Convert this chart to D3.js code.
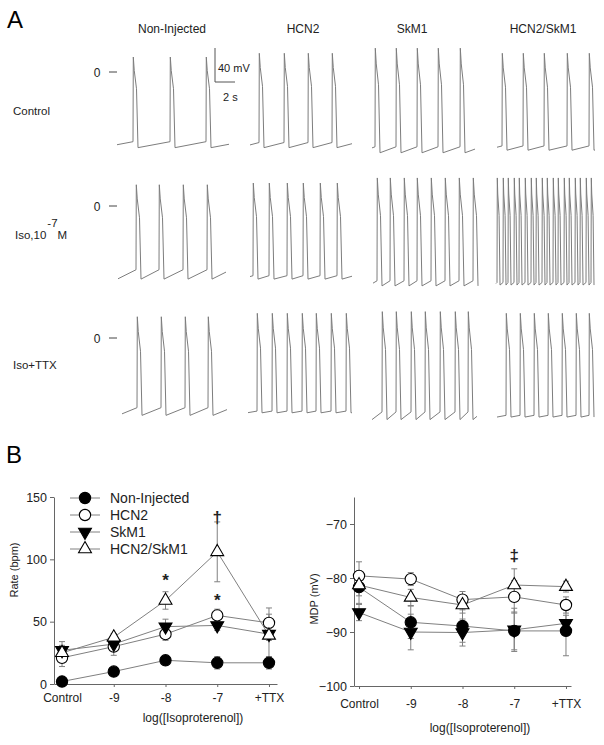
<!DOCTYPE html>
<html><head><meta charset="utf-8">
<script src="https://cdn.jsdelivr.net/npm/d3@7"></script>
<style>body{margin:0;background:#fff;} svg{font-family:Arial,"Liberation Sans",sans-serif;display:block;}</style>
</head><body><svg id="c" width="604" height="745"></svg>
<script>
// ---------------- DATA ----------------
const groups = ["Non-Injected", "HCN2", "SkM1", "HCN2/SkM1"];
const rowLabels = ["Control", "Iso,10", "Iso+TTX"];
const doseLabels = ["Control", "-9", "-8", "-7", "+TTX"];

// Panel A: spike (upstroke) times in seconds, per row, per group
const spikesControl = [[1.6, 5.3, 8.9], [0.9, 3.4, 5.8, 8.2], [0.3, 2.4, 4.5, 6.6, 8.8], [0.5, 2.6, 4.7, 7.0, 9.2]];
const spikesIso = [[1.8, 4.1, 6.5, 8.9], [0.3, 1.9, 3.7, 5.3, 7.0, 8.7], [0.4, 1.7, 3.1, 4.4, 5.8, 7.2, 8.6, 10.0],
  [0.1, 0.7, 1.2, 1.8, 2.3, 2.9, 3.5, 4.0, 4.6, 5.1, 5.7, 6.2, 6.8, 7.3, 7.9, 8.4, 9.0, 9.5]];
const spikesIsoTTX = [[1.5, 3.9, 6.3, 8.6], [0.9, 2.4, 3.9, 5.4, 6.8, 8.3, 9.8], [1.0, 2.4, 3.9, 5.3, 6.8, 8.3, 9.6], [0.9, 2.3, 3.7, 5.1, 6.5, 7.9, 9.2]];
// record durations (s)
const durControl = [11.2, 10.2, 10.3, 9.8];
const durIso = [10.8, 10.2, 10.5, 9.8];
const durIsoTTX = [10.5, 10.4, 10.5, 9.6];
// overshoot peak (mV)
const peakControl = [17.6, 22, 28, 22];
const peakIso = [25, 27, 33, 33];
const peakIsoTTX = [25, 29, 31, 29];
// maximum diastolic potential of the traces (mV)
const mdpControl = [-89, -89, -95, -92];
const mdpIso = [-86, -86, -94, -93];
const mdpIsoTTX = [-91, -88, -96, -93];
// threshold (mV)
const thrControl = [-82, -83, -88, -87];
const thrIso = [-75, -82, -88, -90];
const thrIsoTTX = [-82, -86, -87, -91];
// action potential duration (s)
const apdControl = [0.5, 0.5, 0.5, 0.5];
const apdIso = [0.5, 0.5, 0.5, 0.3];
const apdIsoTTX = [0.5, 0.5, 0.5, 0.5];

// Panel B: rate (bpm)
const rateNonInjected = [2, 10, 19, 17, 17];
const rateHCN2 = [21, 30, 40, 55, 49];
const rateSkM1 = [27, 32, 46, 47, 40];
const rateHCN2SkM1 = [25, 37.5, 67, 106, 39];
const rateErrNonInjected = [1, 2, 4, 5, 5];
const rateErrHCN2 = [7, 7, 5, 5, 12];
const rateErrSkM1 = [7, 5, 6, 4, 5];
const rateErrHCN2SkM1 = [6, 3, 7, 24, 17];

// Panel B: MDP (mV)
const mdpNonInjected = [-81.7, -88.2, -88.9, -89.8, -89.8];
const mdpHCN2 = [-79.6, -80.2, -84.0, -83.5, -85.0];
const mdpSkM1 = [-86.4, -90.0, -90.1, -89.6, -88.4];
const mdpHCN2SkM1 = [-81.3, -83.6, -85.0, -81.3, -81.6];
const mdpErrNonInjected = [3, 3, 3, 3.5, 4.6];
const mdpErrHCN2 = [2.6, 1.2, 1.5, 3, 1.5];
const mdpErrSkM1 = [1.5, 3.3, 2.5, 4, 1.5];
const mdpErrHCN2SkM1 = [2, 1.5, 1.5, 3, 1];

const rateSymbols = ["*", "*", "\u2020"];
const rateSymbolDose = ["-8", "-7", "-7"];
const mdpSymbols = ["\u2021"];
const mdpSymbolDose = ["-7"];

// ---------------- DRAW ----------------
const svg = d3.select("#c");
const traceColor = "#7d7d7d";

// Panel letters
svg.append("text").attr("x", 7).attr("y", 28).attr("font-size", 24).text("A");
svg.append("text").attr("x", 6).attr("y", 463).attr("font-size", 24).text("B");

// Column headers
const headerX = [172, 303, 412, 543];
groups.forEach((g, i) => svg.append("text").attr("x", headerX[i]).attr("y", 33)
  .attr("text-anchor", "middle").attr("font-size", 12).attr("fill", "#222").text(g));

// Row labels
svg.append("text").attr("x", 13).attr("y", 115).attr("font-size", 11.5).attr("fill", "#222").text(rowLabels[0]);
const isoT = svg.append("text").attr("x", 15).attr("y", 239).attr("font-size", 11.5).attr("fill", "#222");
isoT.append("tspan").text(rowLabels[1]);
isoT.append("tspan").attr("dx", 1).attr("dy", -12).text("-7");
isoT.append("tspan").attr("dx", 0).attr("dy", 12).text("M");
svg.append("text").attr("x", 13).attr("y", 369).attr("font-size", 11.5).attr("fill", "#222").text(rowLabels[2]);

// traces
const rows = [
  {sp: spikesControl, dur: durControl, pk: peakControl, mdp: mdpControl, thr: thrControl, apd: apdControl},
  {sp: spikesIso, dur: durIso, pk: peakIso, mdp: mdpIso, thr: thrIso, apd: apdIso},
  {sp: spikesIsoTTX, dur: durIsoTTX, pk: peakIsoTTX, mdp: mdpIsoTTX, thr: thrIsoTTX, apd: apdIsoTTX}
];
const zeroY = [72, 206, 338];
const startX = [[117, 250, 372, 497], [118, 250, 373, 496], [122, 248, 372, 497]];
const pxPerS = 10, pxPerMV = 34 / 40;

function buildTrace(sp, dur, pk, mdp, thr, D) {
  const pts = [];
  const amp = pk - mdp;
  const intervals = sp.slice(1).map((t, i) => t - sp[i]);
  const meanInt = intervals.length ? d3.mean(intervals) : 3;
  const slope = (thr - mdp) / Math.max(meanInt - D, 0.1);
  const v0 = Math.max(mdp, thr - slope * sp[0]);
  pts.push([0, v0]);
  sp.forEach((t0) => {
    pts.push([t0, thr]);
    pts.push([t0 + 0.03, pk]);
    pts.push([t0 + 0.25 * D, pk - 0.15 * amp]);
    pts.push([t0 + 0.7 * D, pk - 0.35 * amp]);
    pts.push([t0 + D, mdp]);
  });
  const last = sp[sp.length - 1] + D;
  if (dur > last) pts.push([dur, Math.min(thr, mdp + slope * (dur - last))]);
  return pts;
}

rows.forEach((r, ri) => {
  const yS = d3.scaleLinear().domain([0, 40]).range([zeroY[ri], zeroY[ri] - 40 * pxPerMV]);
  svg.append("text").attr("x", 97).attr("y", zeroY[ri] + 4.5).attr("text-anchor", "middle")
    .attr("font-size", 12).attr("fill", "#222").text("0");
  svg.append("line").attr("x1", 109).attr("x2", 117).attr("y1", yS(0)).attr("y2", yS(0))
    .attr("stroke", "#444").attr("stroke-width", 1);
  groups.forEach((g, gi) => {
    const xS = d3.scaleLinear().domain([0, 1]).range([startX[ri][gi], startX[ri][gi] + pxPerS]);
    const pts = buildTrace(r.sp[gi], r.dur[gi], r.pk[gi], r.mdp[gi], r.thr[gi], r.apd[gi]);
    svg.append("path").attr("d", d3.line().x(d => xS(d[0])).y(d => yS(d[1]))(pts))
      .attr("fill", "none").attr("stroke", traceColor).attr("stroke-width", 1).attr("stroke-linejoin", "round");
  });
});

// scale bar (40 mV, 2 s)
{
  const yS = d3.scaleLinear().domain([0, 40]).range([82, 82 - 40 * pxPerMV]);
  const xS = d3.scaleLinear().domain([0, 1]).range([215, 215 + pxPerS]);
  svg.append("path").attr("d", `M${xS(0)},${yS(40)}V${yS(0)}H${xS(2)}`)
    .attr("fill", "none").attr("stroke", "#555").attr("stroke-width", 1);
  svg.append("text").attr("x", 218).attr("y", 72).attr("font-size", 11).attr("fill", "#222").text("40 mV");
  svg.append("text").attr("x", 223).attr("y", 101).attr("font-size", 11).attr("fill", "#222").text("2 s");
}

// ---------------- Panel B charts ----------------
const lineColor = "#808080";
const seriesStyle = [
  {type: d3.symbolCircle, size: 100, fill: "#000", rot: 0},
  {type: d3.symbolCircle, size: 100, fill: "#fff", rot: 0},
  {type: d3.symbolTriangle, size: 72, fill: "#000", rot: 180},
  {type: d3.symbolTriangle, size: 72, fill: "#fff", rot: 0}
];

function drawChart(opt) {
  const g = svg.append("g");
  const x = d3.scalePoint().domain(doseLabels).range(opt.xr).padding(opt.pad);
  const y = d3.scaleLinear().domain(opt.yd).range(opt.yr);
  const ya = g.append("g").attr("transform", `translate(${opt.xr[0]},0)`)
    .call(d3.axisLeft(y).tickValues(opt.ticks).tickSize(4).tickSizeOuter(0).tickPadding(3));
  ya.selectAll("text").attr("font-size", 12.5).attr("fill", "#222").attr("font-family", null);
  const xa = g.append("g").attr("transform", `translate(0,${opt.yr[0]})`)
    .call(d3.axisBottom(x).tickSize(3).tickSizeOuter(0).tickPadding(opt.xpad));
  xa.selectAll("text").attr("font-size", 12).attr("fill", "#222").attr("font-family", null);
  [ya, xa].forEach(a => { a.selectAll("path,line").attr("stroke", "#666"); });

  g.append("text").attr("transform", `translate(${opt.ylx},${opt.yly}) rotate(-90)`)
    .attr("text-anchor", "middle").attr("font-size", 11).attr("fill", "#222").text(opt.ylabel);
  g.append("text").attr("x", opt.xtx).attr("y", opt.xty).attr("text-anchor", "middle")
    .attr("font-size", 12).attr("fill", "#222").text("log([Isoproterenol])");

  const line = d3.line().x((d, i) => x(doseLabels[i])).y(d => y(d));
  opt.series.forEach((s) => {
    g.append("path").attr("d", line(s)).attr("fill", "none").attr("stroke", lineColor).attr("stroke-width", 1);
  });
  opt.series.forEach((s, si) => {
    s.forEach((v, i) => {
      const e = opt.errs[si][i];
      const cx = x(doseLabels[i]);
      g.append("path").attr("d", `M${cx},${y(v - e)}V${y(v + e)}M${cx - 3},${y(v - e)}h6M${cx - 3},${y(v + e)}h6`)
        .attr("stroke", lineColor).attr("stroke-width", 1).attr("fill", "none");
    });
  });
  opt.series.forEach((s, si) => {
    const st = seriesStyle[si];
    s.forEach((v, i) => {
      g.append("path").attr("d", d3.symbol().type(st.type).size(st.size)())
        .attr("transform", `translate(${x(doseLabels[i])},${y(v)}) rotate(${st.rot})`)
        .attr("fill", st.fill).attr("stroke", "#000").attr("stroke-width", 1.1);
    });
  });
  opt.marks.forEach((m) => {
    g.append("text").attr("x", x(m.dose)).attr("y", m.yb).attr("text-anchor", "middle")
      .attr("font-size", 17).attr("font-weight", "bold").attr("fill", "#222").text(m.s);
  });
  return {x, y};
}

drawChart({
  xr: [54, 277], pad: 0.155, yd: [0, 150], yr: [684, 497], ticks: [0, 50, 100, 150], xpad: 6,
  ylabel: "Rate (bpm)", ylx: 18, yly: 570, xtx: 193, xty: 722,
  series: [rateNonInjected, rateHCN2, rateSkM1, rateHCN2SkM1],
  errs: [rateErrNonInjected, rateErrHCN2, rateErrSkM1, rateErrHCN2SkM1],
  marks: [{s: rateSymbols[0], dose: rateSymbolDose[0], yb: 586}, {s: rateSymbols[1], dose: rateSymbolDose[1], yb: 606},
          {s: rateSymbols[2], dose: rateSymbolDose[2], yb: 523}]
});

drawChart({
  xr: [354, 571], pad: 0.097, yd: [-100, -65], yr: [686, 497], ticks: [-100, -90, -80, -70], xpad: 10,
  ylabel: "MDP (mV)", ylx: 318, yly: 599, xtx: 480, xty: 732,
  series: [mdpNonInjected, mdpHCN2, mdpSkM1, mdpHCN2SkM1],
  errs: [mdpErrNonInjected, mdpErrHCN2, mdpErrSkM1, mdpErrHCN2SkM1],
  marks: [{s: mdpSymbols[0], dose: mdpSymbolDose[0], yb: 561}]
});

// Legend
const legY = [498, 515, 532, 549];
groups.forEach((gname, i) => {
  const st = seriesStyle[i];
  svg.append("line").attr("x1", 70).attr("x2", 100).attr("y1", legY[i]).attr("y2", legY[i])
    .attr("stroke", lineColor).attr("stroke-width", 1);
  svg.append("path").attr("d", d3.symbol().type(st.type).size(st.size)())
    .attr("transform", `translate(85,${legY[i]}) rotate(${st.rot})`)
    .attr("fill", st.fill).attr("stroke", "#000").attr("stroke-width", 1.1);
  svg.append("text").attr("x", 110).attr("y", legY[i] + 5).attr("font-size", 14).attr("fill", "#222").text(gname);
});
</script></body></html>
